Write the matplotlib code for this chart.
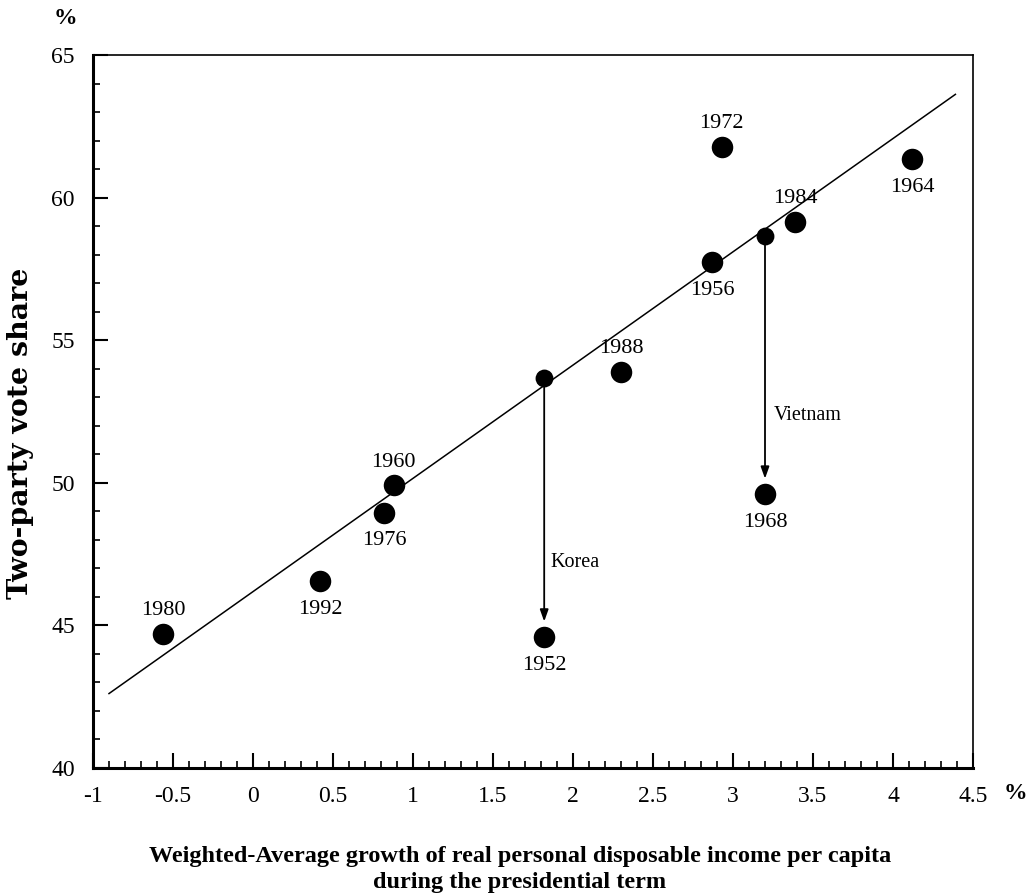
import matplotlib
matplotlib.use("Agg")
import matplotlib.pyplot as plt
from matplotlib.ticker import MultipleLocator, FuncFormatter

plt.rcParams['font.family'] = ['Liberation Serif', 'DejaVu Serif']

# ---- data ----
years = ['1952', '1956', '1960', '1964', '1968', '1972', '1976', '1980', '1984', '1988', '1992']
growth = [1.82, 2.87, 0.88, 4.12, 3.20, 2.93, 0.82, -0.56, 3.39, 2.30, 0.42]
vote = [44.60, 57.75, 49.91, 61.34, 49.61, 61.79, 48.95, 44.70, 59.16, 53.90, 46.56]
label_side = ['below', 'below', 'above', 'below', 'below', 'above', 'below', 'above', 'above', 'above', 'below']

# predicted (no-war) points and the war labels
pred_x = [1.82, 3.20]
pred_y = [53.66, 58.67]
war_actual_y = [44.60, 49.61]
war_names = ['Korea', 'Vietnam']
war_text_x = [1.86, 3.255]
war_text_y = [47.2, 52.37]

# regression line endpoints
reg_x = [-0.9, 4.39]
reg_y = [42.61, 63.62]

fig = plt.figure(figsize=(10.32, 8.96), dpi=100)
ax = fig.add_axes([93 / 1032, 1 - 768 / 896, (973 - 93) / 1032, (768 - 55) / 896])

ax.plot(reg_x, reg_y, color='black', lw=1.1, zorder=2)

# arrows from predicted to actual
for px, py, ay in zip(pred_x, pred_y, war_actual_y):
    ax.annotate('', xy=(px, ay), xytext=(px, py),
                arrowprops=dict(arrowstyle='-|>,head_length=0.7,head_width=0.25',
                                lw=1.3, color='black', shrinkA=0, shrinkB=11),
                zorder=3)

ax.scatter(growth, vote, s=240, color='black', zorder=4, linewidths=0)
ax.scatter(pred_x, pred_y, s=165, color='black', zorder=4, linewidths=0)

for yr, gx, vy, side in zip(years, growth, vote, label_side):
    if side == 'above':
        ax.annotate(yr, (gx, vy), xytext=(0, 13.5), textcoords='offset points',
                    ha='center', va='baseline', fontsize=16)
    else:
        ax.annotate(yr, (gx, vy), xytext=(0, -13.5), textcoords='offset points',
                    ha='center', va='top', fontsize=16)

for nm, tx, ty in zip(war_names, war_text_x, war_text_y):
    ax.text(tx, ty, nm, ha='left', va='center', fontsize=14.5)

ax.set_xlim(-1, 4.5)
ax.set_ylim(40, 65)
ax.xaxis.set_major_locator(MultipleLocator(0.5))
ax.xaxis.set_minor_locator(MultipleLocator(0.1))
ax.yaxis.set_major_locator(MultipleLocator(5))
ax.yaxis.set_minor_locator(MultipleLocator(1))
ax.xaxis.set_major_formatter(FuncFormatter(lambda v, p: f'{v:g}'))
ax.yaxis.set_major_formatter(FuncFormatter(lambda v, p: f'{v:g}'))

ax.tick_params(which='both', direction='in', top=False, right=False, labelsize=17)
ax.tick_params(which='major', length=10.8, width=1.5)
ax.tick_params(which='minor', length=5, width=1.2)
ax.tick_params(axis='x', which='major', pad=13)
ax.tick_params(axis='y', which='major', pad=13)

ax.spines['left'].set_linewidth(2.2)
ax.spines['bottom'].set_linewidth(2.2)
ax.spines['top'].set_linewidth(1.2)
ax.spines['right'].set_linewidth(1.2)

fig.text(21 / 1032, 1 - 433 / 896, 'Two-party vote share', rotation=90,
         ha='center', va='center', fontsize=20.5, fontweight='bold',
         family=['DejaVu Serif'])
fig.text(65 / 1032, 1 - 18 / 896, '%', ha='center', va='center', fontsize=17, fontweight='bold')
fig.text(1015 / 1032, 1 - 793 / 896, '%', ha='center', va='center', fontsize=17, fontweight='bold')
fig.text(520 / 1032, 1 - 862 / 896,
         'Weighted-Average growth of real personal disposable income per capita',
         ha='center', va='baseline', fontsize=17.5, fontweight='bold')
fig.text(520 / 1032, 1 - 888 / 896, 'during the presidential term',
         ha='center', va='baseline', fontsize=17.5, fontweight='bold')

fig.savefig('out.png', dpi=100)
